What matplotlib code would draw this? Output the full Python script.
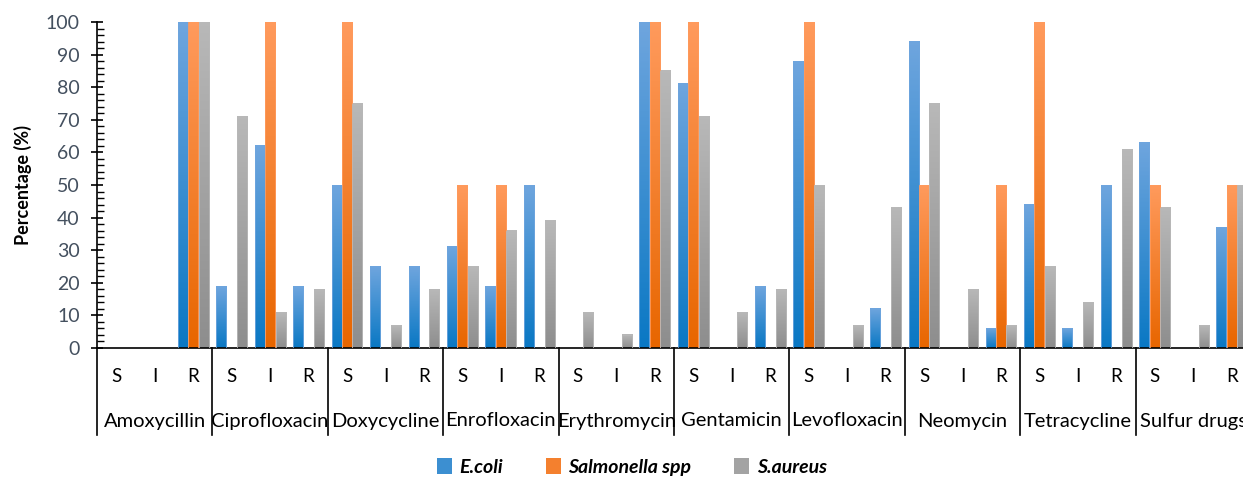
import numpy as np
import matplotlib
matplotlib.use("Agg")
import matplotlib.pyplot as plt
from matplotlib.colors import LinearSegmentedColormap
from matplotlib.patches import Rectangle, Patch
from matplotlib.ticker import MultipleLocator
import matplotlib.transforms as mtransforms

antibiotics = ["Amoxycillin", "Ciprofloxacin", "Doxycycline", "Enrofloxacin",
               "Erythromycin", "Gentamicin", "Levofloxacin", "Neomycin",
               "Tetracycline", "Sulfur drugs"]
levels = ["S", "I", "R"]

# values per antibiotic in S, I, R order
ecoli = [0, 0, 100,  19, 62, 19,  50, 25, 25,  31, 19, 50,  0, 0, 100,
         81, 0, 19,  88, 0, 12,  94, 0, 6,  44, 6, 50,  63, 0, 37]
salmonella = [0, 0, 100,  0, 100, 0,  100, 0, 0,  50, 50, 0,  0, 0, 100,
              100, 0, 0,  100, 0, 0,  50, 0, 50,  100, 0, 0,  50, 0, 50]
saureus = [0, 0, 100,  71, 11, 18,  75, 7, 18,  25, 36, 39,  11, 4, 85,
           71, 11, 18,  50, 7, 43,  75, 18, 7,  25, 14, 61,  43, 7, 50]

series = [("E.coli", ecoli, "#0a78c4", "#6ea5de"),
          ("Salmonella spp", salmonella, "#e86600", "#ff9a5c"),
          ("S.aureus", saureus, "#8e8e8e", "#b8b8b8")]

plt.rcParams["font.family"] = ["Lato", "DejaVu Sans"]

fig = plt.figure(figsize=(12.43, 4.78), dpi=100)
ax = fig.add_axes([97 / 1243, 130 / 478, 1154 / 1243, 326 / 478])

n = len(antibiotics) * len(levels)
x = np.arange(n)
bar_w = 0.26
pitch = 0.272

handles = []
for k, (name, vals, dark, light) in enumerate(series):
    cmap = LinearSegmentedColormap.from_list(name, [dark, light])
    grad = np.linspace(0, 1, 64).reshape(-1, 1)
    for xi, v in zip(x, vals):
        if v <= 0:
            continue
        x0 = xi + (k - 1) * pitch - bar_w / 2
        ax.imshow(grad, extent=[x0, x0 + bar_w, 0, v], origin="lower",
                  cmap=cmap, aspect="auto", interpolation="bilinear", zorder=2)
        ax.add_patch(Rectangle((x0, 0), bar_w, v, facecolor="none",
                               edgecolor=light, lw=0.6, zorder=3))
    handles.append(Patch(facecolor=cmap(0.5), edgecolor="none", label=name))

ax.set_xlim(-0.5, n - 0.5)
ax.set_ylim(0, 100)
ax.yaxis.set_major_locator(MultipleLocator(10))
ax.yaxis.set_minor_locator(MultipleLocator(2))
ax.tick_params(axis="y", which="major", direction="inout", length=9, width=1.2,
               labelsize=14, labelcolor="#44505f", pad=8)
ax.tick_params(axis="y", which="minor", direction="in", length=5, width=1)
ax.set_xticks([])
for s in ["top", "right"]:
    ax.spines[s].set_visible(False)
ax.spines["left"].set_linewidth(1.2)
ax.spines["bottom"].set_linewidth(1.2)
ax.set_ylabel("Percentage (%)", fontsize=13, fontweight="bold", labelpad=10)

# two-level category axis
trans = mtransforms.blended_transform_factory(ax.transData, ax.transAxes)
px = 1 / 326
for xi in x:
    ax.text(xi, -29 * px, levels[xi % 3], transform=trans, ha="center",
            va="center", fontsize=13.5, clip_on=False)
for g, name in enumerate(antibiotics):
    ax.text(3 * g + 1, -73 * px, name, transform=trans, ha="center",
            va="center", fontsize=14.5, clip_on=False)
for g in range(len(antibiotics) + 1):
    ax.plot([3 * g - 0.5, 3 * g - 0.5], [0, -87 * px], transform=trans,
            color="black", lw=1.2, clip_on=False)

fig.legend(handles=handles, loc="center", bbox_to_anchor=(632 / 1243, 11 / 478),
           ncol=3, frameon=False, handlelength=0.75, handleheight=0.9,
           handletextpad=0.4, columnspacing=2.2,
           prop={"size": 14, "weight": "bold", "style": "italic"})

fig.savefig("out.png", dpi=100)
